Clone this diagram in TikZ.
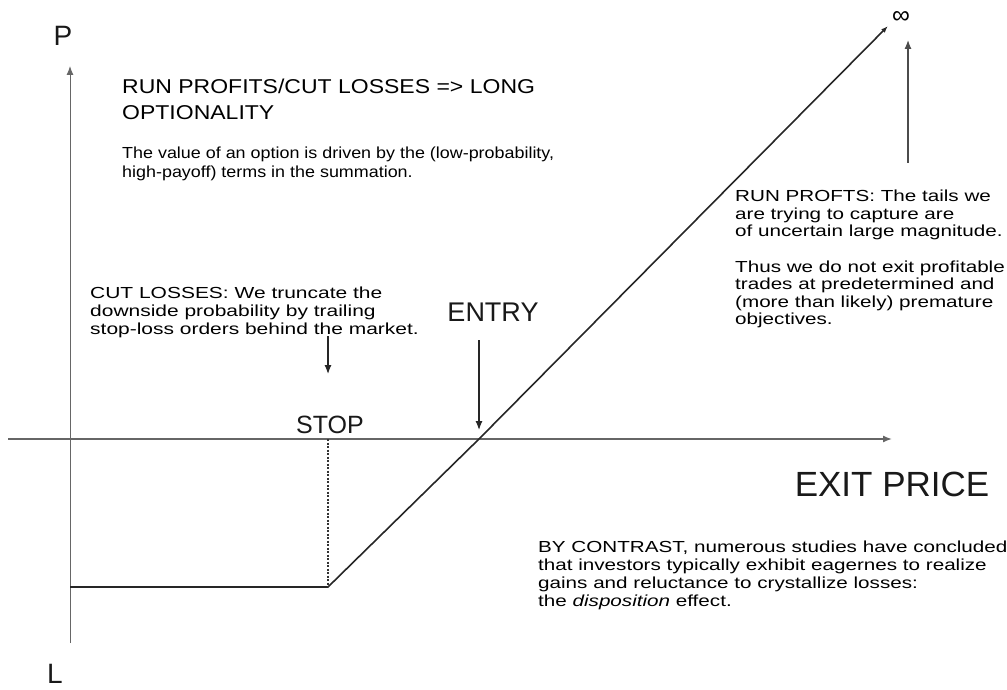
\documentclass[tikz,border=0pt]{standalone}
\usepackage{fontspec}
\setmainfont{Liberation Sans}
\newfontfamily\notefont[FakeStretch=1.29]{Liberation Sans}
\newfontfamily\valuefont[FakeStretch=1.12]{Liberation Sans}
\newfontfamily\cutfont[FakeStretch=1.31]{Liberation Sans}
\newfontfamily\headfont[FakeStretch=1.15]{Liberation Sans}
\usetikzlibrary{arrows.meta}
\tikzset{
  note/.style={font=\notefont\fontsize{16}{18}\selectfont, align=left, anchor=north west, inner sep=0pt, text=black},
  big/.style={font=\fontsize{25}{25}\selectfont, inner sep=0pt, text=black!90},
  axis/.style={draw=black!60, line width=1.4pt},
  pay/.style={draw=black!85, line width=1.6pt},
  tip/.style={-{Latex[length=9pt,width=7pt]}},
}
\begin{document}
\begin{tikzpicture}[x=1pt, y=1pt]
  \useasboundingbox (0,0) rectangle (1007,-690);
  \coordinate (ytop) at (70,-66); \coordinate (ybot) at (70,-643);
  \coordinate (xl) at (8,-439); \coordinate (xr) at (892,-439);
  \coordinate (floor) at (70,-587); \coordinate (stop) at (328,-587);
  \coordinate (stopx) at (328,-439); \coordinate (entry) at (479,-439);
  \coordinate (inf) at (888,-26);
  \draw[axis, line width=1pt, tip] (ybot) -- (ytop);
  \draw[axis, tip] (xl) -- (xr);
  \draw[pay] (floor) -- (stop) -- (entry);
  \draw[pay, -{Latex[length=7pt,width=5pt]}] (entry) -- (inf);
  \draw[black!80, line width=1.2pt, dash pattern=on 2pt off 1.5pt] (stopx) -- (stop);
  \node[big, font=\fontsize{28}{28}\selectfont] (p) at (63,-36) {P};
  \node[big, font=\fontsize{28}{28}\selectfont] (l) at (55,-674) {L};
  \node[big, font=\fontsize{35}{35}\selectfont] (exit) at (892,-484) {EXIT PRICE};
  \node[big, font=\fontsize{27}{27}\selectfont] (entrylbl) at (493,-312) {ENTRY};
  \node[big] (stoplbl) at (330,-425) {STOP};
  \node[inner sep=0pt, font=\fontsize{25}{25}\selectfont] (infty) at (901,-18) {∞};
  \node[note, font=\headfont\fontsize{20}{26}\selectfont] (head) at (122,-79) {RUN PROFITS/CUT LOSSES => LONG\\OPTIONALITY};
  \node[note, font=\valuefont\fontsize{16}{18.5}\selectfont] (value) at (122,-147) {The value of an option is driven by the (low-probability,\\high-payoff) terms in the summation.};
  \node[note, font=\cutfont\fontsize{16}{18}\selectfont] (cut) at (90,-287) {CUT LOSSES: We truncate the\\downside probability by trailing\\stop-loss orders behind the market.};
  \node[note, font=\notefont\fontsize{16}{17.6}\selectfont] (run) at (735,-190) {RUN PROFTS: The tails we\\are trying to capture are\\of uncertain large magnitude.\\[17.6pt]Thus we do not exit profitable\\trades at predetermined and\\(more than likely) premature\\objectives.};
  \node[note] (contrast) at (538,-541) {BY CONTRAST, numerous studies have concluded\\that investors typically exhibit eagernes to realize\\gains and reluctance to crystallize losses:\\the \textit{disposition} effect.};
  \coordinate (s1) at (328,-336); \coordinate (s2) at (328,-374);
  \coordinate (e1) at (479,-340); \coordinate (e2) at (479,-430);
  \coordinate (u1) at (908,-163); \coordinate (u2) at (908,-40);
  \draw[black!85, line width=1.2pt, tip] (s1) -- (s2);
  \draw[black!85, line width=1.2pt, tip] (e1) -- (e2);
  \draw[black!70, line width=1.2pt, tip] (u1) -- (u2);
\end{tikzpicture}
\end{document}
